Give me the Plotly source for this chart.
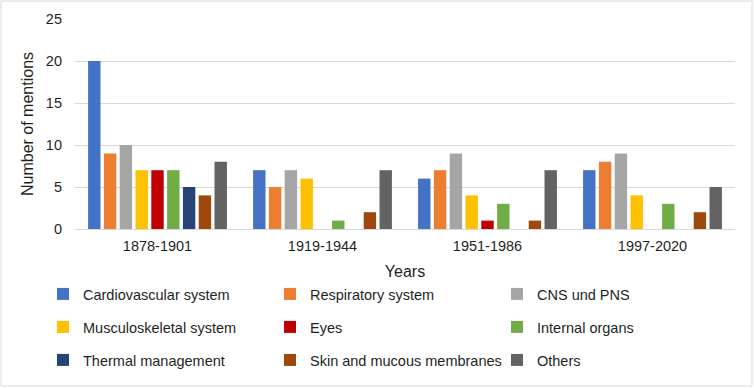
import plotly.graph_objects as go

periods = ["1878-1901", "1919-1944", "1951-1986", "1997-2020"]
series_names = [
    "Cardiovascular system", "Respiratory system", "CNS und PNS",
    "Musculoskeletal system", "Eyes", "Internal organs",
    "Thermal management", "Skin and mucous membranes", "Others",
]
cardiovascular = [20, 7, 6, 7]
respiratory = [9, 5, 7, 8]
cns_pns = [10, 7, 9, 9]
musculoskeletal = [7, 6, 4, 4]
eyes = [7, 0, 1, 0]
internal_organs = [7, 1, 3, 3]
thermal = [5, 0, 0, 0]
skin = [4, 2, 1, 2]
others = [8, 7, 7, 5]
y_ticks = [0, 5, 10, 15, 20, 25]

values = [cardiovascular, respiratory, cns_pns, musculoskeletal, eyes,
          internal_organs, thermal, skin, others]
colors = ["#4472C4", "#ED7D31", "#A5A5A5", "#FFC000", "#C00000",
          "#70AD47", "#264478", "#9E480E", "#636363"]
legend_ids = ["legend", "legend", "legend", "legend2", "legend2", "legend2",
              "legend3", "legend3", "legend3"]

FONT = "Liberation Sans, Arial, sans-serif"
TXT = "#1F1F1F"

fig = go.Figure()
for name, vals, col, lg in zip(series_names, values, colors, legend_ids):
    fig.add_trace(go.Bar(x=periods, y=vals, name=name, marker_color=col,
                         marker_line_width=0, legend=lg))

W, H = 754, 388
L, R, T, B = 75, 19, 19, 159
pw, ph = W - L - R, H - T - B

def px_to_paper_y(py):
    return (H - B - py) / ph

def px_to_paper_x(px):
    return (px - L) / pw

leg_common = dict(orientation="h", entrywidth=182, entrywidthmode="pixels",
                  font=dict(family=FONT, size=14.5, color=TXT),
                  x=px_to_paper_x(43), xanchor="left", yanchor="middle",
                  bgcolor="rgba(0,0,0,0)", itemwidth=30)

fig.update_layout(
    width=W, height=H,
    margin=dict(l=L, r=R, t=T, b=B, autoexpand=False),
    paper_bgcolor="white", plot_bgcolor="white",
    barmode="group", bargap=0.138, bargroupgap=0.215,
    font=dict(family=FONT, color=TXT),
    legend=dict(**leg_common, y=px_to_paper_y(294)),
    legend2=dict(**leg_common, y=px_to_paper_y(327)),
    legend3=dict(**leg_common, y=px_to_paper_y(360)),
    xaxis=dict(
        title=dict(text="Years", font=dict(family=FONT, size=16, color=TXT), standoff=13),
        tickfont=dict(family=FONT, size=14.5, color=TXT),
        showline=False, showgrid=False, ticks="", ticklabelstandoff=6,
    ),
    yaxis=dict(
        title=dict(text="Number of mentions", font=dict(family=FONT, size=16, color=TXT), standoff=8),
        tickfont=dict(family=FONT, size=14.5, color=TXT),
        range=[0, 25], tickvals=y_ticks, showgrid=True, gridcolor="#D9D9D9",
        gridwidth=1, zeroline=True, zerolinecolor="#D9D9D9", zerolinewidth=1,
        showline=False, ticks="", ticklabelstandoff=12,
    ),
    shapes=[dict(type="rect", xref="paper", yref="paper",
                 x0=px_to_paper_x(1), x1=px_to_paper_x(752),
                 y0=px_to_paper_y(386), y1=px_to_paper_y(1),
                 line=dict(color="#D9D9D9", width=1), fillcolor="rgba(0,0,0,0)",
                 layer="below")],
)

fig.write_html("out.html", config={"displayModeBar": False},
               post_script="document.body.style.margin='0';document.body.style.overflow='hidden';")
